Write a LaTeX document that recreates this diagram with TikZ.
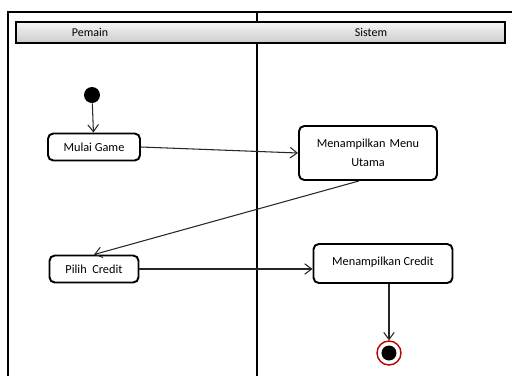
\documentclass[tikz,border=0pt]{standalone}
\usepackage{fontspec}
\setmainfont{Carlito}
\usetikzlibrary{arrows.meta}
\tikzset{
  aksi/.style={draw, line width=1.1pt, rounded corners=3pt, fill=white, align=center,
    font=\fontsize{7}{11}\selectfont, inner sep=2pt},
  alur/.style={-{Straight Barb[length=4pt,width=6pt]}, black!85, semithick},
}
\begin{document}
\begin{tikzpicture}[x=0.02cm, y=-0.02cm]
        \useasboundingbox (0,0) rectangle (512,376);
        % Bingkai dan jalur
        \draw[thick] (8,376) -- (8,12) -- (512,12);
        \draw[semithick] (257,12) -- (257,376);
        \draw[thick, top color=gray!8, bottom color=gray!40] (16,22) rectangle (505,43);
        \node[font=\fontsize{6.8}{8}\selectfont] (pemain) at (90,32.5) {Pemain};
        \node[font=\fontsize{6.8}{8}\selectfont] (sistem) at (371,32.5) {Sistem};
        % Aktivitas
        \node[circle, fill=black, minimum size=16*0.02cm, inner sep=0] (mulai) at (92,95) {};
        \node[aksi, minimum width=92*0.02cm, minimum height=27*0.02cm] (game) at (94,147) {Mulai Game};
        \node[aksi, minimum width=138*0.02cm, minimum height=54*0.02cm, text width=110*0.02cm] (menu) at (368,153) {Menampilkan Menu\\Utama};
        \node[aksi, minimum width=89*0.02cm, minimum height=27*0.02cm] (pilih) at (94,269) {Pilih\ \ Credit};
        \node[aksi, minimum width=139*0.02cm, minimum height=39*0.02cm, text depth=4*0.02cm] (tampil) at (383,263.5) {Menampilkan Credit};
        \node[circle, draw=red!75!black, thick, minimum size=24*0.02cm, inner sep=0] (selesai) at (389,353) {};
        \node[circle, fill=black, minimum size=15*0.02cm, inner sep=0] (titik) at (selesai) {};
        % Alur
        \draw[alur] (mulai) -- (game);
        \draw[alur] (game.east) -- (menu.west);
        \draw[alur] (menu.-108) -- (pilih.north);
        \draw[alur] (pilih.east) -- (tampil.west |- pilih.east);
        \draw[alur] (tampil.south -| selesai) -- (selesai);
    \end{tikzpicture}
\end{document}
